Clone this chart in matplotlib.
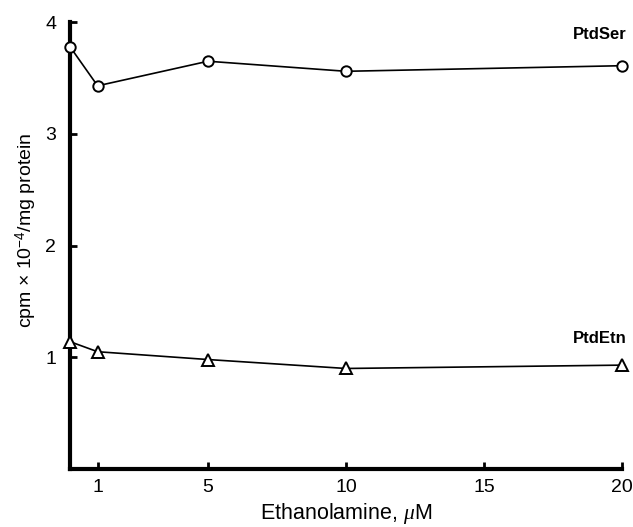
import matplotlib
matplotlib.use("Agg")
import matplotlib.pyplot as plt

plt.rcParams['font.family'] = ['Liberation Sans', 'DejaVu Sans']
plt.rcParams['mathtext.fontset'] = 'custom'
plt.rcParams['mathtext.rm'] = 'Liberation Sans'
plt.rcParams['mathtext.it'] = 'Liberation Serif:italic'

ethanolamine = [0, 1, 5, 10, 20]
ptdser = [3.78, 3.43, 3.65, 3.56, 3.61]
ptdetn = [1.14, 1.05, 0.98, 0.90, 0.93]
x_ticks = [1, 5, 10, 15, 20]
y_ticks = [1, 2, 3, 4]

fig = plt.figure(figsize=(6.33, 5.27), dpi=100)
ax = fig.add_axes([0.1106, 0.110, 0.8720, 0.848])

ax.plot(ethanolamine, ptdser, color='black', lw=1.2, marker='o', ms=7.5,
        mfc='white', mec='black', mew=1.4, clip_on=False, zorder=5)
ax.plot(ethanolamine, ptdetn, color='black', lw=1.2, marker='^', ms=8.5,
        mfc='white', mec='black', mew=1.4, clip_on=False, zorder=5)

ax.set_xlim(0, 20)
ax.set_ylim(0, 4)
ax.set_xticks(x_ticks)
ax.set_yticks(y_ticks)
ax.tick_params(direction='in', length=5, width=2, labelsize=14)
ax.tick_params(axis='y', pad=10)
ax.tick_params(axis='x', pad=7)

for s in ['top', 'right']:
    ax.spines[s].set_visible(False)
for s in ['left', 'bottom']:
    ax.spines[s].set_linewidth(3)

ax.set_xlabel('Ethanolamine, $\\mu$M', fontsize=15.5, labelpad=4)
ax.set_ylabel('cpm \u00d7 10$^{\u2212 4}$/mg protein', fontsize=14)
ax.yaxis.set_label_coords(-0.056, 0.533)

ax.text(20.15, 3.89, 'PtdSer', fontsize=12, fontweight='bold', ha='right', va='center')
ax.text(20.15, 1.17, 'PtdEtn', fontsize=12, fontweight='bold', ha='right', va='center')

fig.savefig('out.png', dpi=100)
